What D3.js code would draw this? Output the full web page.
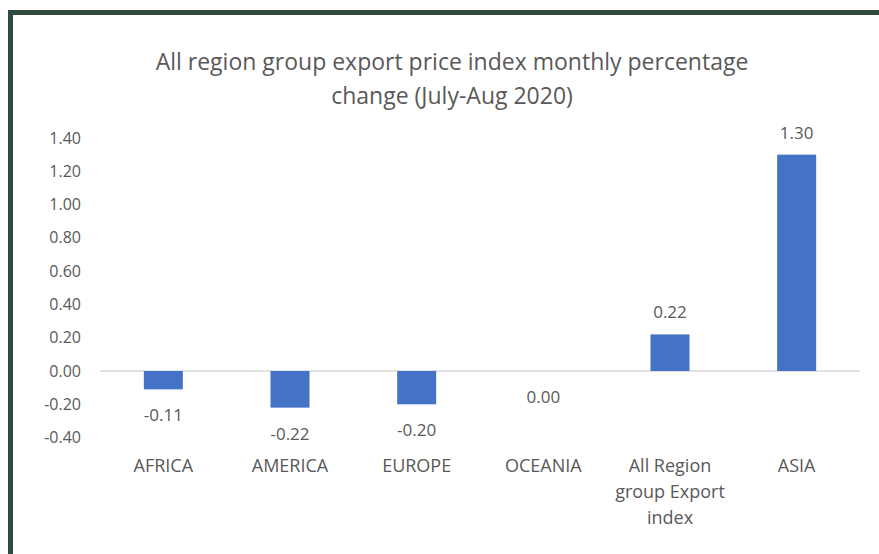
<!DOCTYPE html>
<html>
<head>
<meta charset="utf-8">
<script src="https://cdn.jsdelivr.net/npm/d3@7"></script>
<style>
  body { margin: 0; background: #fff; }
  svg { display: block; font-family: "Open Sans", "Liberation Sans", sans-serif; }
</style>
</head>
<body>
<svg width="879" height="554"></svg>
<script>
var categories = ["AFRICA", "AMERICA", "EUROPE", "OCEANIA", "All Region group Export index", "ASIA"];
var catLines = [["AFRICA"], ["AMERICA"], ["EUROPE"], ["OCEANIA"], ["All Region", "group Export", "index"], ["ASIA"]];
var values = [-0.11, -0.22, -0.20, 0.00, 0.22, 1.30];
var yTicks = [-0.40, -0.20, 0.00, 0.20, 0.40, 0.60, 0.80, 1.00, 1.20, 1.40];
var titleLines = ["All region group export price index monthly percentage", "change (July-Aug 2020)"];

var svg = d3.select("svg");
var textColor = "#595959";
// excel style numbers with a plain hyphen
var fmt = d3.formatLocale({ decimal: ".", thousands: ",", grouping: [3], currency: ["", ""], minus: "-" }).format(".2f");

// dark green frame on top and left
svg.append("rect").attr("x", 8).attr("y", 10).attr("width", 871).attr("height", 5).attr("fill", "#2f4a3a");
svg.append("rect").attr("x", 8).attr("y", 10).attr("width", 5).attr("height", 544).attr("fill", "#2f4a3a");

var xScale = d3.scaleBand().domain(categories).range([100, 860]).padding(0);
var yScale = d3.scaleLinear().domain([-0.40, 1.40]).range([437.6, 138]);
var barW = 39;

// title
svg.append("text")
  .attr("x", 452).attr("y", 70)
  .attr("text-anchor", "middle")
  .attr("font-size", "23px")
  .attr("fill", textColor)
  .selectAll("tspan")
  .data(titleLines)
  .enter().append("tspan")
  .attr("x", 452)
  .attr("dy", function (d, i) { return i == 0 ? 0 : 34; })
  .text(function (d) { return d; });

// y axis labels
var yAxis = svg.append("g")
  .attr("transform", "translate(81,0)")
  .call(d3.axisLeft(yScale).tickValues(yTicks).tickFormat(fmt).tickSize(0).tickPadding(0));
yAxis.select(".domain").remove();
yAxis.selectAll("text")
  .attr("font-size", "16px")
  .attr("font-family", "\"Open Sans\", \"Liberation Sans\", sans-serif")
  .attr("fill", textColor);

// zero line
svg.append("line")
  .attr("x1", 100).attr("x2", 860)
  .attr("y1", yScale(0)).attr("y2", yScale(0))
  .attr("stroke", "#d9d9d9").attr("stroke-width", 1.5);

// bars
svg.selectAll(".bar")
  .data(values)
  .enter().append("rect")
  .attr("class", "bar")
  .attr("x", function (d, i) { return xScale(categories[i]) + xScale.bandwidth() / 2 - barW / 2; })
  .attr("y", function (d) { return yScale(Math.max(0, d)); })
  .attr("width", barW)
  .attr("height", function (d) { return Math.abs(yScale(d) - yScale(0)); })
  .attr("fill", "#4472c4");

// data labels
svg.selectAll(".dlabel")
  .data(values)
  .enter().append("text")
  .attr("class", "dlabel")
  .attr("x", function (d, i) { return xScale(categories[i]) + xScale.bandwidth() / 2; })
  .attr("y", function (d) { return d > 0 ? yScale(d) - 16 : yScale(d) + 32; })
  .attr("text-anchor", "middle")
  .attr("font-size", "17px")
  .attr("fill", textColor)
  .text(function (d) { return fmt(d); });

// category labels
var cat = svg.selectAll(".cat")
  .data(catLines)
  .enter().append("text")
  .attr("class", "cat")
  .attr("text-anchor", "middle")
  .attr("font-size", "18px")
  .attr("fill", textColor)
  .attr("y", 472);
cat.selectAll("tspan")
  .data(function (d, i) { return d.map(function (t) { return { t: t, i: i }; }); })
  .enter().append("tspan")
  .attr("x", function (d) { return xScale(categories[d.i]) + xScale.bandwidth() / 2; })
  .attr("dy", function (d, j) { return j == 0 ? 0 : 26; })
  .text(function (d) { return d.t; });
</script>
</body>
</html>
